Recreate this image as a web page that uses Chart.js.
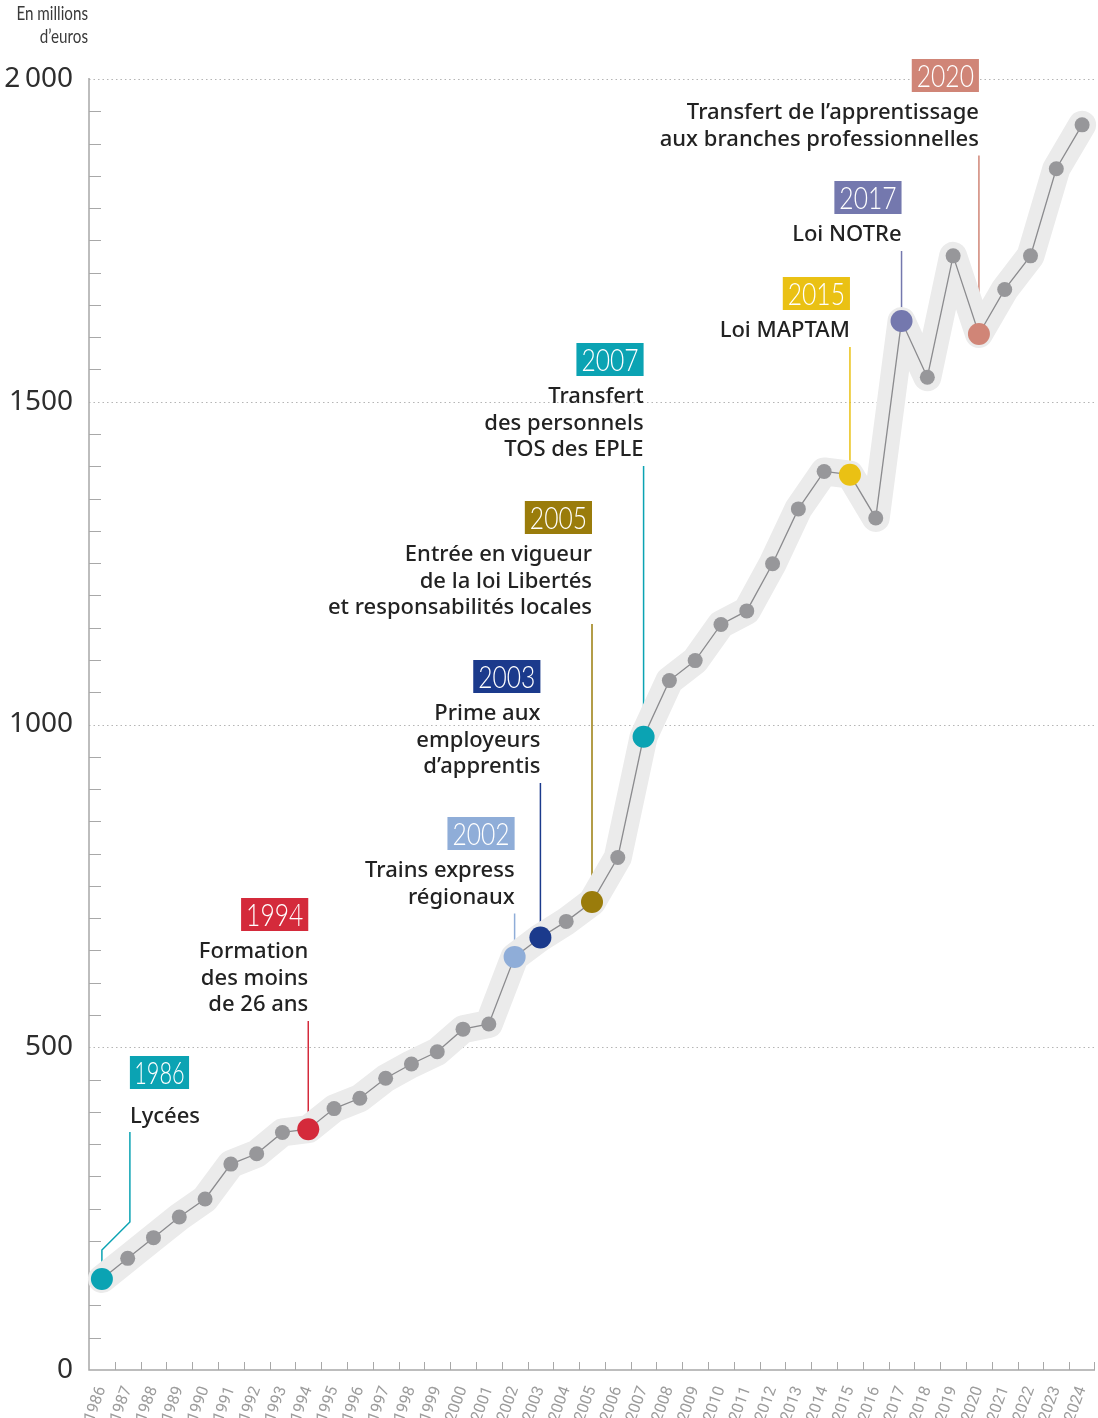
<!DOCTYPE html>
<html lang="fr">
<head>
<meta charset="utf-8">
<script src="https://cdn.jsdelivr.net/npm/chart.js@4.4.1/dist/chart.umd.min.js"></script>
<style>
  html, body { margin: 0; padding: 0; background: #fff; overflow: hidden; }
  canvas { display: block; }
</style>
</head>
<body>
<canvas id="chart" width="1098" height="1418"></canvas>
<script>
// budget en millions d'euros, 1986-2024
const years = [
  "1986", "1987", "1988", "1989", "1990", "1991", "1992", "1993", "1994", "1995",
  "1996", "1997", "1998", "1999", "2000", "2001", "2002", "2003", "2004", "2005",
  "2006", "2007", "2008", "2009", "2010", "2011", "2012", "2013", "2014", "2015",
  "2016", "2017", "2018", "2019", "2020", "2021", "2022", "2023", "2024",
];
const values = [
  141, 173, 205, 237, 265, 319, 335, 368, 373, 405,
  421, 452, 474, 493, 528, 536, 640, 670, 695, 725,
  794, 981, 1068, 1099, 1155, 1176, 1249, 1334, 1392, 1387,
  1320, 1625, 1538, 1726, 1605, 1674, 1726, 1861, 1929,
];
const yTicks = [0, 500, 1000, 1500, 2000];

// événements marquants
const eventYears = ["1986", "1994", "2002", "2003", "2005", "2007", "2015", "2017", "2020"];
const eventColors = ["#0ba3b3", "#d42a3b", "#8fadd8", "#1b3a8c", "#9a7c0b", "#0ba3b3", "#eac114", "#7478ae", "#d08577"];
const eventTexts = [
  ["Lycées"],
  ["Formation", "des moins", "de 26 ans"],
  ["Trains express", "régionaux"],
  ["Prime aux", "employeurs", "d’apprentis"],
  ["Entrée en vigueur", "de la loi Libertés", "et responsabilités locales"],
  ["Transfert", "des personnels", "TOS des EPLE"],
  ["Loi MAPTAM"],
  ["Loi NOTRe"],
  ["Transfert de l’apprentissage", "aux branches professionnelles"],
];

// placement des étiquettes (pixels), séparé des données
const badgeTops = [1056, 898, 817, 660, 501, 343, 277, 181, 59];

const GREY_POINT = "#97979a";
const textFont = '500 22px "Noto Sans", Lato, sans-serif';

function colorFor(i) {
  const k = eventYears.indexOf(years[i]);
  return k >= 0 ? eventColors[k] : GREY_POINT;
}

function drawBadge(c, text, x, top, color, leftAlign) {
  c.save();
  c.font = '300 32px Lato, "Noto Sans", sans-serif';
  const sx = 0.77;
  const w = c.measureText(text).width * sx + (leftAlign ? 2 : 10);
  const h = 33;
  const left = leftAlign ? x : x - w;
  c.fillStyle = color;
  c.fillRect(left, top, w, h);
  c.fillStyle = "#fff";
  c.textAlign = "center";
  c.textBaseline = "middle";
  c.translate(left + w / 2, top + h / 2 + 1);
  c.scale(leftAlign ? 0.68 : sx, 1);
  c.fillText(text, 0, 0);
  c.restore();
}

const decor = {
  id: "decor",
  beforeDatasetsDraw(chart) {
    const c = chart.ctx;
    const { left, right, top, bottom } = chart.chartArea;
    const xs = chart.scales.x;
    const ys = chart.scales.y;
    c.save();

    // lignes pointillées
    c.strokeStyle = "#b5b5b5";
    c.lineWidth = 1;
    c.setLineDash([1.5, 3]);
    for (const v of yTicks) {
      if (v === 0) continue;
      const y = Math.round(ys.getPixelForValue(v)) + 0.5;
      c.beginPath();
      c.moveTo(left, y);
      c.lineTo(right, y);
      c.stroke();
    }
    c.setLineDash([]);

    // petites graduations
    c.strokeStyle = "#a8a8a8";
    c.lineWidth = 1;
    for (let v = 50; v < 2000; v += 50) {
      if (v % 500 === 0) continue;
      const y = Math.round(ys.getPixelForValue(v)) + 0.5;
      c.beginPath();
      c.moveTo(left, y);
      c.lineTo(left + 12, y);
      c.stroke();
    }
    for (let i = 0; i < years.length; i++) {
      let x;
      if (i + 1 < years.length) {
        x = Math.round((xs.getPixelForValue(i) + xs.getPixelForValue(i + 1)) / 2) + 0.5;
      } else {
        x = right - 0.5;
      }
      c.beginPath();
      c.moveTo(x, bottom);
      c.lineTo(x, bottom - 8);
      c.stroke();
    }

    // axes
    c.strokeStyle = "#a8a8a8";
    c.lineWidth = 1.5;
    c.beginPath();
    c.moveTo(left, top - 1);
    c.lineTo(left, bottom);
    c.lineTo(right, bottom);
    c.stroke();

    // traits de rappel
    c.lineWidth = 1.5;
    eventYears.forEach((yr, k) => {
      const i = years.indexOf(yr);
      const px = xs.getPixelForValue(i);
      const py = ys.getPixelForValue(values[i]);
      const n = eventTexts[k].length;
      c.strokeStyle = eventColors[k];
      c.beginPath();
      if (k === 0) {
        const startY = badgeTops[k] + 61 + 15;
        c.moveTo(px + 28, startY);
        c.lineTo(px + 28, startY + 90);
        c.lineTo(px, startY + 118);
        c.lineTo(px, py);
      } else {
        const startY = badgeTops[k] + 54 + (n - 1) * 26.5 + 16;
        c.moveTo(px, startY);
        c.lineTo(px, py);
      }
      c.stroke();
    });

    // titre de l'axe
    c.fillStyle = "#3a3a3a";
    c.textAlign = "right";
    c.textBaseline = "middle";
    c.font = '19px Lato, "Noto Sans", sans-serif';
    [["En millions", 14], ["d’euros", 37]].forEach(([t, y]) => {
      c.save();
      c.translate(88, y);
      c.scale(0.8, 1);
      c.fillText(t, 0, 0);
      c.restore();
    });
    c.restore();
  },
  afterDatasetsDraw(chart) {
    const c = chart.ctx;
    const xs = chart.scales.x;
    c.save();
    eventYears.forEach((yr, k) => {
      const i = years.indexOf(yr);
      const px = xs.getPixelForValue(i);
      const leftAlign = k === 0;
      const ax = leftAlign ? px + 28 : px;
      drawBadge(c, yr, ax, badgeTops[k], eventColors[k], leftAlign);
      c.fillStyle = "#222";
      c.font = textFont;
      c.textAlign = leftAlign ? "left" : "right";
      c.textBaseline = "middle";
      const first = badgeTops[k] + (leftAlign ? 61 : 54);
      eventTexts[k].forEach((line, j) => {
        c.fillText(line, ax, first + j * 26.5);
      });
    });
    c.restore();
  },
};

new Chart(document.getElementById("chart"), {
  type: "line",
  data: {
    labels: years,
    datasets: [
      {
        data: values,
        borderColor: "#8b8b8e",
        borderWidth: 1.3,
        pointRadius: (ctx) => (eventYears.includes(years[ctx.dataIndex]) ? 11 : 7.5),
        pointBackgroundColor: (ctx) => colorFor(ctx.dataIndex),
        pointBorderWidth: 0,
        tension: 0,
      },
      {
        data: values,
        borderColor: "#ebebeb",
        borderWidth: 28,
        borderCapStyle: "round",
        borderJoinStyle: "round",
        pointRadius: 0,
        tension: 0,
      },
    ],
  },
  options: {
    responsive: false,
    animation: false,
    layout: { autoPadding: false, padding: { top: 79, right: 3, left: 0, bottom: 0 } },
    plugins: { legend: { display: false }, tooltip: { enabled: false } },
    scales: {
      x: {
        type: "category",
        offset: true,
        grid: { display: false },
        border: { display: false },
        ticks: {
          color: "#9c9c9c",
          font: { family: '"Liberation Sans Narrow", Roboto, sans-serif', size: 16 },
          minRotation: 70,
          maxRotation: 70,
          autoSkip: false,
          padding: 6,
        },
        afterFit: (s) => {
          s.height = 48;
          s.paddingLeft = 0;
          s.paddingRight = 0;
        },
      },
      y: {
        min: 0,
        max: 2000,
        grid: { display: false },
        border: { display: false },
        ticks: {
          stepSize: 500,
          color: "#2e2e2e",
          padding: 8,
          font: { family: '"Noto Sans", sans-serif', size: 28 },
          callback: (v) => (v === 2000 ? "2\u2009000" : String(v)),
        },
        afterFit: (s) => {
          s.width = 89;
          s.paddingTop = 0;
          s.paddingBottom = 0;
        },
      },
    },
  },
  plugins: [decor],
});
</script>
</body>
</html>
